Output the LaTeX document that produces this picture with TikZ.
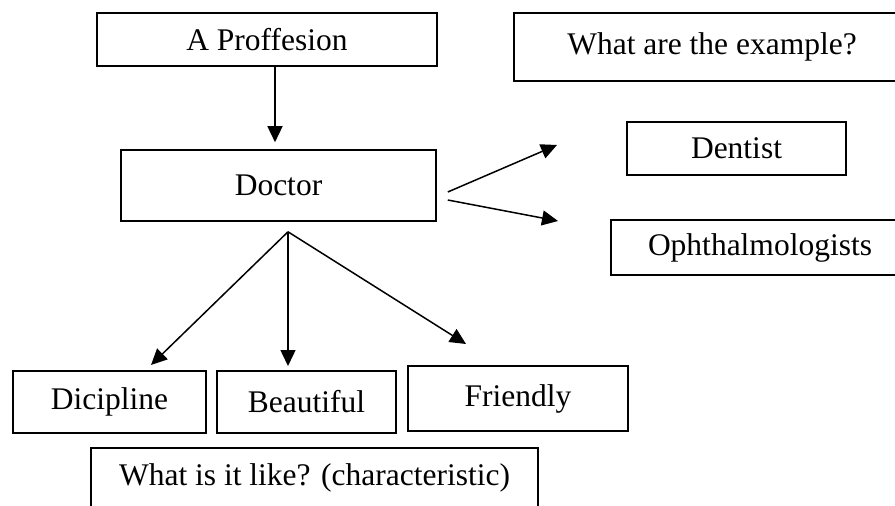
\documentclass[tikz,border=0pt]{standalone}
\usepackage{fontspec}
\setmainfont{Liberation Serif}
\usetikzlibrary{arrows.meta}

\begin{document}
\begin{tikzpicture}[
			x=1pt, y=-1pt,
			box/.style={rectangle, draw, line width=1.6pt, inner sep=0pt,
				font=\fontsize{31.5pt}{36pt}\selectfont},
			arr/.style={-{Triangle[length=16pt,width=15pt]}, line width=1.5pt}
		]
		\fill[white] (0,0) rectangle (895,506);
		\useasboundingbox (0,0) rectangle (895,506);
		\clip (0,0) rectangle (895,506);

		\node[box, minimum width=340pt, minimum height=53pt] (prof) at (267,39.5) {A Proffesion};
		\node[box, minimum width=315pt, minimum height=71pt] (doctor) at (278.5,185.5) {Doctor};
		\node[box, minimum width=396pt, minimum height=68pt] (example) at (712,47) {What are the example?};
		\node[box, minimum width=219pt, minimum height=53pt] (dentist) at (736.5,148.5) {Dentist};
		\node[box, minimum width=298pt, minimum height=55pt] (ophth) at (760,247.5) {Ophthalmologists};
		\node[box, minimum width=193pt, minimum height=62pt] (dicipline) at (109.5,402) {Dicipline};
		\node[box, minimum width=179pt, minimum height=62pt] (beautiful) at (306.5,402) {Beautiful};
		\node[box, minimum width=220pt, minimum height=65pt] (friendly) at (518,398.5) {Friendly};
		\node[box, minimum width=447pt, minimum height=60pt] (like) at (314.5,478) {What is it like? (characteristic)};

		\coordinate (fork) at ([xshift=9.5pt,yshift=-10pt]doctor.south);
		\coordinate (toDentist) at (557,145);
		\coordinate (toOphth) at (558,221);
		\coordinate (toDicipline) at (151,365);
		\coordinate (toBeautiful) at (288,366);
		\coordinate (toFriendly) at (466,344);

		\draw[arr, shorten >=7pt] (prof.south -| 275,0) -- (doctor.north -| 275,0);
		\draw[arr] ([xshift=11pt,yshift=-6.5pt]doctor.east) -- (toDentist);
		\draw[arr] ([xshift=11pt,yshift=-14.5pt]doctor.east) -- (toOphth);
		\draw[arr] (fork) -- (toDicipline);
		\draw[arr] (fork) -- (toBeautiful);
		\draw[arr] (fork) -- (toFriendly);
	\end{tikzpicture}
\end{document}
